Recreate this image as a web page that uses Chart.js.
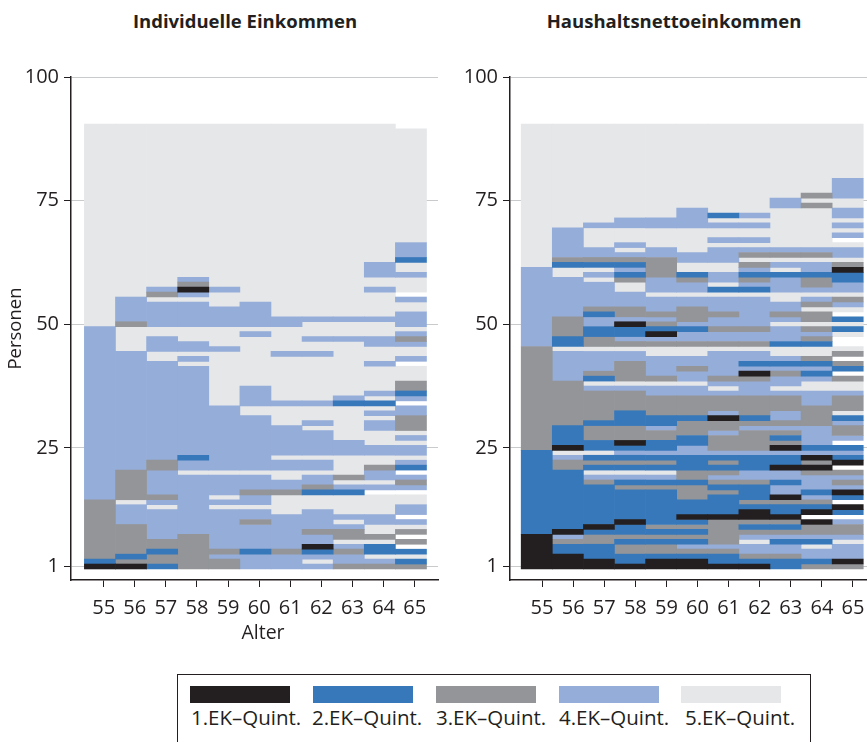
<!DOCTYPE html>
<html>
  <head>
    <meta charset="utf-8">
    <title>Einkommensquintile nach Alter</title>
    <script src="https://cdn.jsdelivr.net/npm/chart.js@4"></script>
    <style>
      html, body { margin: 0; padding: 0; background: #fff; overflow: hidden; }
      body { width: 867px; height: 742px; position: relative; font-family: "Open Sans", sans-serif; color: #231f20; }
      canvas { position: absolute; top: 0; }
      .titel { position: absolute; top: 8px; font-weight: 700; font-size: 18.5px; white-space: nowrap; transform: translateX(-50%); }
      .alter { position: absolute; top: 618px; left: 263px; font-size: 19.5px; transform: translateX(-50%); }
      #legende { position: absolute; left: 177px; top: 674px; width: 634px; height: 80px; border: 1.5px solid #231f20; box-sizing: border-box; }
      .feld { position: absolute; top: 11px; width: 100px; height: 17px; }
      .text { position: absolute; top: 28px; font-size: 20.5px; white-space: nowrap; }
    </style>
  </head>

  <body>
    <div class="titel" style="left: 245px">Individuelle Einkommen</div>
    <div class="titel" style="left: 674px">Haushaltsnettoeinkommen</div>
    <canvas id="links" width="445" height="660" style="left: 0"></canvas>
    <canvas id="rechts" width="445" height="660" style="left: 445px"></canvas>
    <div class="alter">Alter</div>
    <div id="legende"></div>

    <script>
      var alter = [55, 56, 57, 58, 59, 60, 61, 62, 63, 64, 65];
      var personenTicks = [1, 25, 50, 75, 100];
      var quintile = ["1.EK–Quint.", "2.EK–Quint.", "3.EK–Quint.", "4.EK–Quint.", "5.EK–Quint."];
      var farben = ["#231f20", "#3778ba", "#939598", "#95add9", "#e6e7e9"];

      // je Alter von unten nach oben: [Quintil, letzte Person] (Quintil 0 = keine Angabe)
      var ind55 = [[1,1],[2,2],[3,14],[4,49],[5,90]];
      var ind56 = [[1,1],[3,2],[2,3],[3,9],[4,13],[5,14],[3,20],[4,44],[5,49],[3,50],[4,55],[5,90]];
      var ind57 = [[2,1],[3,3],[2,4],[3,6],[4,12],[5,13],[4,14],[3,15],[4,20],[3,22],[4,42],[5,44],[4,47],[5,49],[4,54],[5,55],[3,56],[4,57],[5,90]];
      var ind58 = [[3,7],[4,19],[5,20],[4,22],[2,23],[4,41],[5,42],[4,43],[5,44],[4,46],[5,49],[4,54],[5,55],[4,56],[1,57],[3,58],[4,59],[5,90]];
      var ind59 = [[3,2],[4,3],[3,4],[4,12],[5,13],[4,14],[5,15],[4,19],[5,20],[4,33],[5,44],[4,45],[5,49],[4,53],[5,56],[4,57],[5,90]];
      var ind60 = [[4,3],[2,4],[4,9],[3,10],[4,12],[5,13],[4,15],[3,16],[4,19],[5,20],[4,31],[5,33],[4,37],[5,47],[4,48],[5,49],[4,54],[5,90]];
      var ind61 = [[4,3],[3,4],[4,11],[5,15],[3,16],[4,18],[5,20],[4,22],[5,23],[4,29],[5,33],[4,34],[5,43],[4,44],[5,49],[4,51],[5,90]];
      var ind62 = [[4,1],[5,2],[4,3],[2,4],[1,5],[4,7],[3,8],[4,12],[5,15],[2,16],[3,17],[4,19],[5,20],[4,22],[5,23],[4,28],[5,29],[4,30],[5,33],[4,34],[5,43],[4,44],[5,46],[4,47],[5,50],[4,51],[5,90]];
      var ind63 = [[3,1],[4,3],[3,4],[4,5],[5,6],[3,8],[4,9],[5,10],[4,11],[5,15],[2,16],[4,17],[5,18],[3,19],[5,23],[4,26],[5,33],[2,34],[4,35],[5,46],[4,47],[5,50],[4,51],[5,90]];
      var ind64 = [[3,1],[4,2],[5,3],[2,5],[5,6],[3,7],[5,9],[4,11],[5,15],[0,16],[4,17],[5,18],[4,20],[3,21],[5,23],[4,25],[5,28],[4,30],[5,31],[4,32],[5,33],[2,34],[5,35],[4,36],[5,41],[4,42],[5,45],[4,47],[5,50],[4,51],[5,56],[4,57],[5,59],[4,62],[5,90]];
      var ind65 = [[3,1],[2,2],[5,3],[2,4],[0,5],[3,6],[0,7],[3,8],[5,9],[4,10],[0,11],[4,13],[5,15],[0,16],[4,17],[3,18],[4,19],[0,20],[2,21],[4,22],[5,23],[4,25],[5,26],[4,27],[5,28],[3,31],[4,33],[0,34],[4,35],[2,36],[3,38],[5,41],[0,42],[4,43],[5,45],[4,46],[3,47],[4,48],[5,49],[4,52],[5,54],[4,55],[0,56],[5,59],[4,60],[5,62],[2,63],[4,66],[5,89]];

      var hh55 = [[1,7],[2,24],[3,45],[4,61],[5,90]];
      var hh56 = [[1,3],[2,5],[3,6],[4,7],[1,8],[2,20],[3,22],[4,23],[5,24],[1,25],[2,29],[3,38],[4,44],[5,45],[2,47],[3,51],[4,59],[5,61],[2,62],[3,63],[4,69],[5,90]];
      var hh57 = [[1,2],[2,5],[3,7],[2,8],[1,9],[2,17],[3,18],[4,19],[5,20],[2,21],[3,22],[2,23],[5,24],[2,26],[3,29],[2,30],[3,36],[4,37],[5,38],[2,39],[3,40],[4,44],[5,45],[3,47],[2,49],[4,51],[2,52],[3,53],[4,58],[5,59],[4,60],[5,61],[2,62],[3,63],[4,65],[5,69],[4,70],[5,90]];
      var hh58 = [[1,1],[2,3],[3,5],[2,6],[3,7],[2,9],[1,10],[2,16],[3,17],[2,18],[4,19],[5,20],[2,21],[3,22],[2,23],[4,24],[2,25],[1,26],[3,29],[2,32],[3,36],[4,37],[5,38],[3,42],[4,44],[5,45],[3,46],[4,47],[2,49],[1,50],[4,51],[3,53],[4,56],[5,58],[3,59],[2,60],[4,61],[2,62],[3,63],[4,64],[5,65],[4,66],[5,69],[4,71],[5,90]];
      var hh59 = [[1,2],[2,3],[3,5],[2,6],[3,7],[2,8],[3,9],[2,16],[3,17],[2,18],[4,19],[5,20],[2,21],[3,22],[2,23],[4,24],[2,26],[3,28],[4,29],[2,31],[3,35],[4,37],[5,38],[3,39],[4,43],[5,45],[3,46],[4,47],[1,48],[2,49],[3,50],[4,51],[3,52],[4,55],[5,56],[4,59],[3,63],[4,65],[5,69],[4,71],[5,90]];
      var hh60 = [[1,2],[2,3],[3,4],[4,5],[2,6],[3,7],[2,8],[3,9],[2,10],[1,11],[2,14],[3,17],[2,18],[3,20],[2,23],[4,25],[2,27],[3,30],[2,31],[3,35],[4,37],[5,38],[4,40],[3,41],[4,43],[5,45],[3,46],[4,48],[2,49],[4,50],[3,53],[4,55],[5,56],[4,58],[3,59],[2,60],[5,62],[4,64],[5,69],[4,73],[5,90]];
      var hh61 = [[1,1],[2,3],[3,4],[4,5],[3,10],[1,11],[2,15],[3,16],[2,17],[3,18],[4,19],[3,20],[2,21],[3,22],[2,23],[4,24],[3,27],[4,28],[3,30],[1,31],[4,32],[3,35],[4,36],[5,37],[4,38],[3,39],[4,44],[5,45],[3,46],[4,48],[3,49],[4,51],[3,52],[4,55],[5,56],[2,57],[5,58],[4,60],[5,62],[4,65],[5,66],[4,67],[5,69],[4,70],[5,71],[2,72],[5,90]];
      var hh62 = [[1,1],[2,2],[3,3],[4,5],[5,6],[4,7],[3,8],[2,9],[3,10],[1,12],[2,13],[3,14],[2,17],[3,18],[4,20],[2,23],[4,24],[3,28],[4,29],[3,30],[2,31],[3,35],[4,38],[3,39],[1,40],[4,41],[2,42],[4,44],[5,45],[3,46],[4,48],[3,49],[4,55],[5,56],[2,57],[4,58],[3,59],[2,60],[4,61],[3,62],[5,63],[3,64],[4,65],[5,66],[4,67],[5,69],[4,70],[5,71],[4,72],[5,90]];
      var hh63 = [[2,2],[3,3],[4,5],[2,6],[4,7],[3,8],[2,9],[3,10],[1,11],[2,13],[3,14],[1,15],[4,17],[2,18],[4,20],[1,21],[2,23],[4,24],[1,25],[3,26],[2,27],[3,28],[4,29],[3,30],[4,32],[3,35],[4,36],[5,37],[4,39],[3,40],[4,41],[2,42],[4,43],[5,45],[2,46],[4,49],[5,50],[4,51],[3,52],[4,54],[5,56],[4,59],[2,60],[5,61],[4,62],[5,63],[3,64],[4,65],[5,73],[4,75],[5,90]];
      var hh64 = [[3,1],[2,2],[4,4],[5,5],[2,6],[4,7],[3,9],[1,10],[0,11],[1,12],[2,13],[3,14],[4,15],[2,16],[4,19],[3,20],[1,21],[3,22],[1,23],[4,24],[2,25],[4,29],[3,33],[4,36],[5,38],[4,39],[2,40],[4,41],[2,42],[3,43],[5,45],[2,46],[3,47],[4,48],[3,49],[5,50],[3,52],[5,53],[3,54],[4,55],[5,56],[4,57],[3,59],[2,60],[4,62],[5,63],[3,64],[4,65],[5,73],[3,74],[5,75],[3,76],[5,90]];
      var hh65 = [[3,1],[1,2],[4,5],[5,6],[4,7],[3,9],[4,10],[0,11],[2,12],[1,13],[0,14],[2,15],[1,16],[4,17],[3,18],[4,19],[3,20],[0,21],[1,22],[2,23],[4,24],[2,25],[0,26],[4,27],[3,29],[4,30],[2,31],[5,32],[3,35],[4,36],[5,38],[3,39],[0,40],[2,41],[3,42],[0,43],[3,44],[5,45],[0,47],[5,48],[2,49],[5,50],[2,51],[0,52],[5,53],[4,54],[3,55],[5,56],[4,58],[2,60],[1,61],[3,62],[5,63],[4,65],[5,66],[0,67],[4,68],[5,69],[4,70],[5,71],[4,73],[5,75],[4,79],[5,90]];

      var spaltenLinks = [ind55, ind56, ind57, ind58, ind59, ind60, ind61, ind62, ind63, ind64, ind65];
      var spaltenRechts = [hh55, hh56, hh57, hh58, hh59, hh60, hh61, hh62, hh63, hh64, hh65];

      // ein Datensatz je Quintil, jede Sequenz ein schwebender Balken
      function baueDatensaetze(spalten, versatz) {
        var saetze = quintile.map(function(q, i) {
          return { label: q, backgroundColor: farben[i], borderWidth: 0, data: [] };
        });
        spalten.forEach(function(spalte, a) {
          var unten = 0.5;
          spalte.forEach(function(stueck) {
            var oben = stueck[1] + 0.5;
            if (stueck[0] > 0)
              saetze[stueck[0] - 1].data.push({ x: alter[a] - versatz, y: [unten, oben] });
            unten = oben;
          });
        });
        return saetze;
      }

      function zeichne(id, spalten, versatz, xMin, xMax, yBreite, rechterRand, mitTitel) {
        new Chart(document.getElementById(id), {
          type: "bar",
          data: { datasets: baueDatensaetze(spalten, versatz) },
          options: {
            responsive: false,
            animation: false,
            layout: { padding: { top: 77, right: rechterRand, bottom: 0, left: 0 } },
            datasets: { bar: { barPercentage: 1, categoryPercentage: 1 } },
            plugins: { legend: { display: false }, tooltip: { enabled: false } },
            scales: {
              x: {
                type: "linear",
                offset: false,
                stacked: true,
                min: xMin,
                max: xMax,
                afterBuildTicks: function(s) { s.ticks = alter.map(function(v) { return { value: v }; }); },
                afterFit: function(s) { s.height = 80; },
                grid: { offset: false, drawOnChartArea: false, tickLength: 7, tickColor: "#231f20", tickWidth: 1 },
                border: { color: "#231f20", width: 1.5 },
                ticks: { color: "#231f20", padding: 9, maxRotation: 0, autoSkip: false, font: { family: "Open Sans", size: 20 } }
              },
              y: {
                min: -1.73,
                max: 100,
                afterBuildTicks: function(s) { s.ticks = personenTicks.map(function(v) { return { value: v }; }); },
                afterFit: function(s) { s.width = yBreite; },
                grid: { color: "#c9cacc", lineWidth: 1, tickLength: 7, tickColor: "#231f20", tickWidth: 1 },
                border: { color: "#231f20", width: 1.5 },
                ticks: { color: "#231f20", padding: 5, font: { family: "Open Sans", size: 20 } },
                title: { display: mitTitel, text: "Personen", color: "#231f20", padding: { top: 5, bottom: 0 }, font: { family: "Open Sans", size: 18.5 } }
              }
            }
          }
        });
      }

      zeichne("links", spaltenLinks, 0.12, 53.95, 65.75, 71, 7, true);
      // rechte Tafel laeuft ueber den Fensterrand hinaus
      zeichne("rechts", spaltenRechts, 0.17, 53.97, 66.19, 65, 0, false);

      // Legende
      var legende = document.getElementById("legende");
      var feldX = [12, 135, 258, 381, 503];
      var textX = [13, 134, 258, 381, 507];
      quintile.forEach(function(q, i) {
        legende.innerHTML += "<div class='feld' style='left:" + feldX[i] + "px;background:" + farben[i] + "'></div>";
        legende.innerHTML += "<div class='text' style='left:" + textX[i] + "px'>" + q + "</div>";
      });
    </script>
  </body>
</html>
